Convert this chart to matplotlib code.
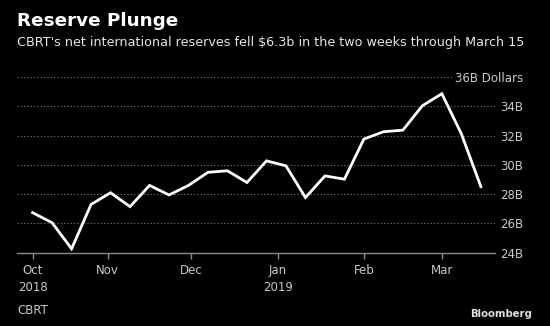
import datetime as dt
import matplotlib
matplotlib.use("Agg")
import matplotlib.pyplot as plt
import matplotlib.dates as mdates

# weekly net international reserves, billions of dollars
dates = [
    "2018-10-05", "2018-10-12", "2018-10-19", "2018-10-26", "2018-11-02",
    "2018-11-09", "2018-11-16", "2018-11-23", "2018-11-30", "2018-12-07",
    "2018-12-14", "2018-12-21", "2018-12-28", "2019-01-04", "2019-01-11",
    "2019-01-18", "2019-01-25", "2019-02-01", "2019-02-08", "2019-02-15",
    "2019-02-22", "2019-03-01", "2019-03-08", "2019-03-15",
]
reserves = [
    26.74, 26.05, 24.27, 27.30, 28.10, 27.15, 28.60, 27.95, 28.60, 29.50,
    29.60, 28.80, 30.28, 29.94, 27.77, 29.25, 29.03, 31.77, 32.27, 32.38,
    34.05, 34.87, 32.13, 28.52,
]
y_ticks = [24, 26, 28, 30, 32, 34, 36]
y_labels = ["24B", "26B", "28B", "30B", "32B", "34B", "36B Dollars"]
x_ticks = ["2018-10-05", "2018-11-01", "2018-12-01", "2019-01-01", "2019-02-01", "2019-03-01"]
x_labels = ["Oct\n2018", "Nov", "Dec", "Jan\n2019", "Feb", "Mar"]

BG = "black"
GRID = "#7a7a7a"
LABEL = "#c8c8c8"

x = [dt.datetime.strptime(d, "%Y-%m-%d") for d in dates]

fig = plt.figure(figsize=(5.5, 3.26), dpi=100, facecolor=BG)
ax = fig.add_axes([0.031, 0.2248, 0.869, 0.5384], facecolor=BG)

ax.plot(x, reserves, color="white", lw=2.0, solid_joinstyle="miter", zorder=3)

ax.set_ylim(24, 36)
ax.set_xlim(dt.datetime(2018, 9, 29, 10), dt.datetime(2019, 3, 20, 2))

# dotted gridlines, the top one stops short of its label
for v in y_ticks[1:]:
    ax.axhline(v, xmin=0, xmax=0.913 if v == 36 else 1, color=GRID,
               lw=0.8, ls=(0, (1, 2)), zorder=1)

for s in ["top", "right", "left"]:
    ax.spines[s].set_visible(False)
ax.spines["bottom"].set_color("#8c8c8c")
ax.spines["bottom"].set_linewidth(1.0)

ax.yaxis.tick_right()
ax.set_yticks(y_ticks)
ax.set_yticklabels(y_labels)
ax.tick_params(axis="y", length=0, pad=20.2, labelsize=8.5, labelcolor=LABEL)
for lab in ax.get_yticklabels():
    lab.set_horizontalalignment("right")

ax.set_xticks([mdates.date2num(dt.datetime.strptime(d, "%Y-%m-%d")) for d in x_ticks])
ax.set_xticklabels(x_labels, linespacing=1.4)
ax.tick_params(axis="x", length=4, width=1, color="#8c8c8c", pad=4,
               labelsize=8.5, labelcolor=LABEL)

fig.text(0.031, 0.935, "Reserve Plunge", color="white", fontsize=13.2,
         fontweight="bold", va="center", ha="left")
fig.text(0.031, 0.871, "CBRT's net international reserves fell $6.3b in the two weeks through March 15",
         color="#e6e6e6", fontsize=9.2, va="center", ha="left")
fig.text(0.031, 0.047, "CBRT", color=LABEL, fontsize=8.5, va="center", ha="left")
fig.text(0.967, 0.037, "Bloomberg", color="#e0e0e0", fontsize=7.3,
         fontweight="bold", va="center", ha="right")

fig.savefig("out.png", dpi=100, facecolor=BG)
